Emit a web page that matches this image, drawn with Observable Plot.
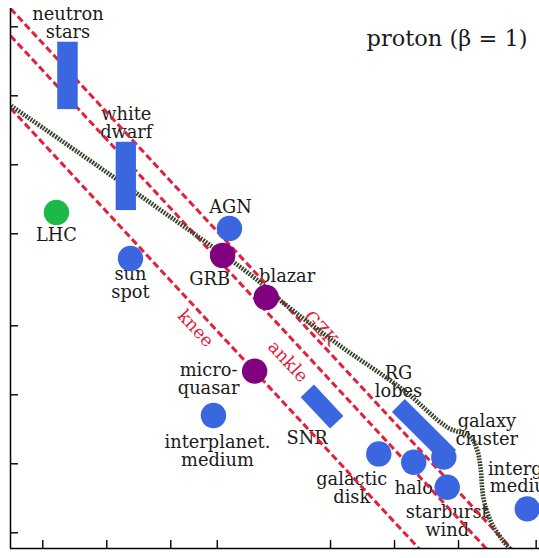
<!DOCTYPE html>
<html>
<head>
<meta charset="utf-8">
<script src="https://cdn.jsdelivr.net/npm/d3@7"></script>
<script src="https://cdn.jsdelivr.net/npm/@observablehq/plot@0.6"></script>
<style>
  html, body { margin: 0; padding: 0; background: #fff; }
  #chart svg { display: block; }
</style>
</head>
<body>
<div id="chart"></div>
<script>
// ---------- DATA (x = log10 size [cm], y = log10 B [G]) ----------
const circleNames = ["LHC", "sun spot", "AGN", "GRB", "blazar", "microquasar",
  "interplanetary medium", "galactic disk", "halo", "galaxy cluster", "starburst wind", "intergalactic medium"];
const circleLogR = [5.64, 9.11, 13.75, 13.43, 15.47, 14.93, 13.00, 20.75, 22.39, 23.80, 23.96, 27.71];
const circleLogB = [4.93, 2.93, 4.23, 3.06, 1.23, -1.97, -3.90, -5.57, -5.93, -5.71, -7.02, -7.96];
const circleKind = ["lab", "source", "source", "transient", "transient", "transient",
  "source", "source", "source", "source", "source", "source"];

const boxNames = ["neutron stars", "white dwarf"];
const boxLogR0 = [5.70, 8.44];
const boxLogR1 = [6.66, 9.39];
const boxLogB0 = [9.40, 5.01];
const boxLogB1 = [12.33, 7.98];

const bandNames = ["SNR", "RG lobes"];
const bandLogR0 = [17.40, 21.67];
const bandLogB0 = [-2.83, -3.47];
const bandLogR1 = [18.78, 24.07];
const bandLogB1 = [-4.19, -5.68];

// Hillas limits: log B + log R = const (proton, beta = 1)
const limitNames = ["knee", "ankle", "GZK"];
const limitSum = [12.95, 16.10, 17.28];
const limitLabelAt = [12.7, 17.0, 17.5];

// energy-loss limit (dotted curve)
const lossLogR = [3.40, 14.89, 16.14, 18.80, 21.93, 23.96, 25.05, 25.37, 25.52, 25.68, 26.14, 27.08];
const lossLogB = [9.64, 2.11, 1.10, -0.78, -2.81, -4.41, -4.84, -5.42, -6.15, -7.60, -8.76, -9.90];

const xTicks = [5, 8, 11, 13.18, 18.49, 21.49, 24.49, 28.13];
const yTicks = [13, 10, 7, 4, 0, -3, -6, -9];

const titleText = "proton (β = 1)";

// ---------- LAYOUT / STYLE ----------
const W = 539, H = 558;
const xDomain = [3.486, 28.286];
const yDomain = [-9.683, 13.796];
const colors = {lab: "#1cb84a", source: "#3a66e0", transient: "#800080"};
const red = "#e3203c";
const lossColor = "#33442a";
const font = "DejaVu Serif";
const fs = 17.8;
const lh = 1.0;

const circleLabels = {
  "LHC": {text: "LHC", dx: 0, dy: 22.5},
  "sun spot": {text: "sun\nspot", dx: 0, dy: 25},
  "AGN": {text: "AGN", dx: 1, dy: -21.5},
  "GRB": {text: "GRB", dx: -13, dy: 24},
  "blazar": {text: "blazar", dx: 21, dy: -21},
  "microquasar": {text: "micro-\nquasar", dx: -46, dy: 8},
  "interplanetary medium": {text: "interplanet.\nmedium", dx: 4, dy: 36},
  "galactic disk": {text: "galactic\ndisk", dx: -27, dy: 34.5},
  "halo": {text: "halo", dx: 0, dy: 26.5},
  "galaxy cluster": {text: "galaxy\ncluster", dx: 43, dy: -27},
  "starburst wind": {text: "starburst\nwind", dx: 0, dy: 34},
  "intergalactic medium": {text: "intergal.\nmedium", dx: -1, dy: -31}
};
const boxLabels = {
  "neutron stars": {text: "neutron\nstars", dx: 0, dy: -53},
  "white dwarf": {text: "white\ndwarf", dx: 0, dy: -53}
};
const bandLabels = {
  "SNR": {text: "SNR", dx: -15, dy: 31.5},
  "RG lobes": {text: "RG\nlobes", dx: -25.5, dy: -49}
};
const limitLabelOffset = {knee: [-11.5, 8.4], ankle: [-10.8, 15], GZK: [11.1, -2.4]};

// ---------- TABLES ----------
const circles = circleNames.map((name, i) => ({name, r: circleLogR[i], b: circleLogB[i], color: colors[circleKind[i]]}));
const boxes = boxNames.map((name, i) => ({name, r0: boxLogR0[i], r1: boxLogR1[i], b0: boxLogB0[i], b1: boxLogB1[i]}));
const bands = bandNames.map((name, i) => ({name, r0: bandLogR0[i], b0: bandLogB0[i], r1: bandLogR1[i], b1: bandLogB1[i]}));
const limits = limitNames.map((name, i) => ({name, s: limitSum[i],
  r0: xDomain[0] - 1, r1: xDomain[1] + 1, la: limitLabelAt[i]}));
const loss = lossLogR.map((r, i) => ({r, b: lossLogB[i]}));

const textMarks = [];
circles.forEach(c => {
  const l = circleLabels[c.name];
  textMarks.push(Plot.text([c], {x: "r", y: "b", text: () => l.text, dx: l.dx, dy: l.dy,
    fontSize: fs, lineHeight: lh, fill: "#1a1a1a"}));
});
boxes.forEach(bx => {
  const l = boxLabels[bx.name];
  textMarks.push(Plot.text([bx], {x: d => (d.r0 + d.r1) / 2, y: d => (d.b0 + d.b1) / 2, text: () => l.text,
    dx: l.dx, dy: l.dy, fontSize: fs, lineHeight: lh, fill: "#1a1a1a"}));
});
bands.forEach(bd => {
  const l = bandLabels[bd.name];
  textMarks.push(Plot.text([bd], {x: d => (d.r0 + d.r1) / 2, y: d => (d.b0 + d.b1) / 2, text: () => l.text,
    dx: l.dx, dy: l.dy, fontSize: fs, lineHeight: lh, fill: "#1a1a1a"}));
});
const limitTextMarks = limits.map(L => Plot.text([L], {
  x: d => d.la, y: d => d.s - d.la, text: "name",
  dx: limitLabelOffset[L.name][0], dy: limitLabelOffset[L.name][1],
  rotate: 47.2, fontSize: fs, fill: red
}));

const chart = Plot.plot({
  width: W, height: H,
  marginLeft: 10, marginRight: 0, marginTop: 8, marginBottom: 10,
  x: {domain: xDomain},
  y: {domain: yDomain},
  color: {type: "identity"},
  style: {fontFamily: font, background: "#fff", color: "#000"},
  marks: [
    ...textMarks,
    ...limitTextMarks,
    Plot.link(limits, {x1: "r0", x2: "r1", y1: d => d.s - d.r0, y2: d => d.s - d.r1,
      stroke: red, strokeWidth: 3, strokeDasharray: "7,3.5", strokeLinecap: "butt", clip: true}),
    Plot.line(loss, {x: "r", y: "b", stroke: lossColor, strokeWidth: 4.6,
      strokeDasharray: "1.8,1.2", strokeLinecap: "butt", curve: "catmull-rom", clip: true}),
    Plot.rect(boxes, {x1: "r0", x2: "r1", y1: "b0", y2: "b1", fill: colors.source}),
    Plot.link(bands, {x1: "r0", y1: "b0", x2: "r1", y2: "b1", stroke: colors.source,
      strokeWidth: 18.3, strokeLinecap: "butt"}),
    Plot.dot(circles, {x: "r", y: "b", r: 12.7, fill: "color", stroke: null}),
    Plot.ruleX([xDomain[0]], {stroke: "#000", strokeWidth: 1.5}),
    Plot.ruleY([yDomain[0]], {stroke: "#000", strokeWidth: 1.5}),
    Plot.axisX(xTicks, {anchor: "bottom", tickSize: -8, tickFormat: () => "", label: null, strokeWidth: 1.4}),
    Plot.axisY(yTicks, {anchor: "left", tickSize: -8, tickFormat: () => "", label: null, strokeWidth: 1.4}),
    Plot.text([titleText], {frameAnchor: "top-right", dx: -12, dy: 37, lineAnchor: "bottom",
      fontSize: 22.5, fill: "#1a1a1a"})
  ]
});
document.getElementById("chart").appendChild(chart);
</script>
</body>
</html>
